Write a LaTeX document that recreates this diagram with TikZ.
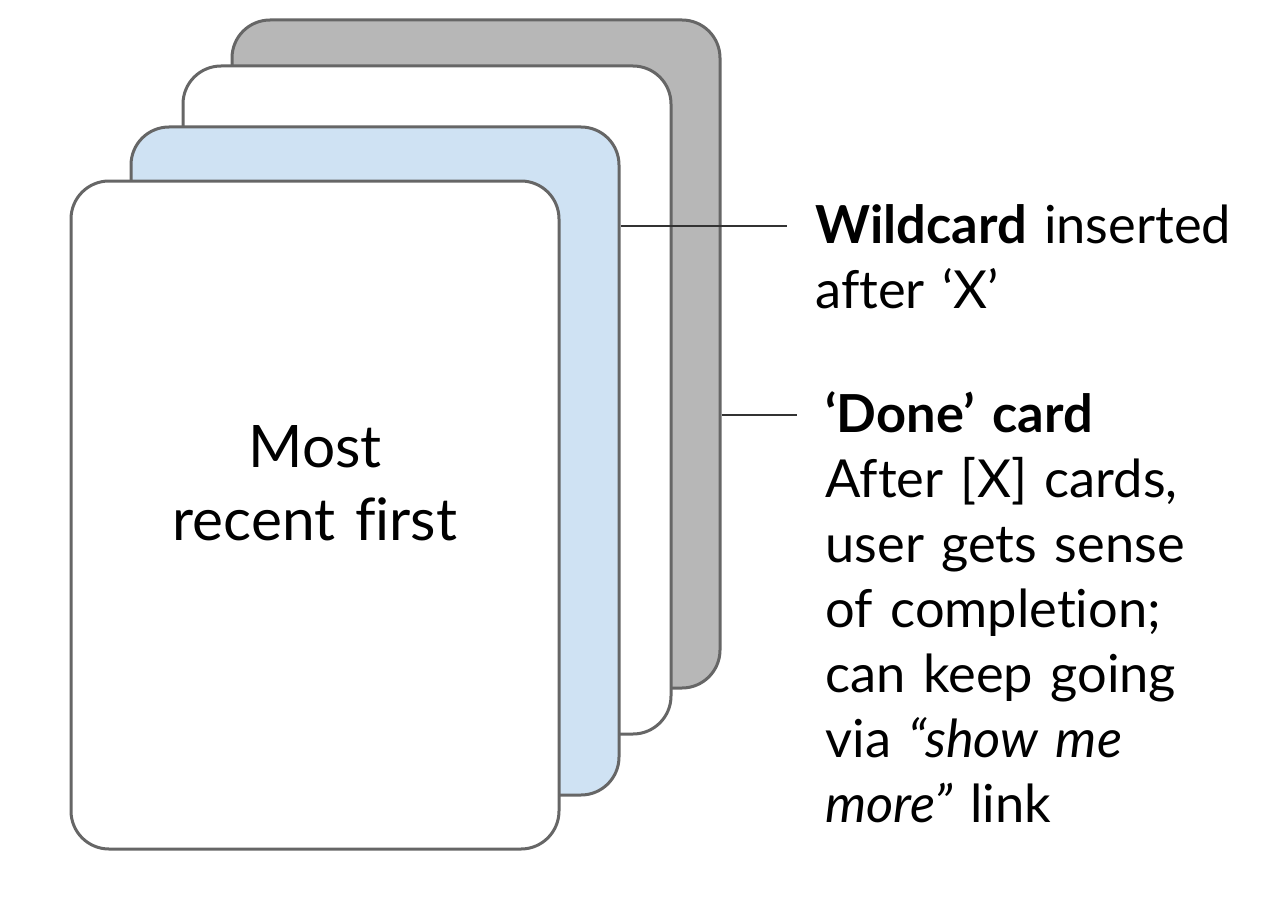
\documentclass[tikz,border=0pt]{standalone}
\usepackage{fontspec}
\setmainfont{Lato}[Ligatures={TeX,NoCommon}, WordSpace=0.8]
\definecolor{cardgray}{HTML}{B7B7B7}
\definecolor{cardblue}{HTML}{CFE2F3}
\definecolor{cardline}{HTML}{666666}
\definecolor{leader}{HTML}{333333}
\begin{document}
\begin{tikzpicture}[x=0.5pt,y=-0.5pt,
	card/.style={draw=cardline, line width=1.5pt, rounded corners=19pt, minimum width=244pt, minimum height=334pt, inner sep=0pt},
	note/.style={anchor=base west, inner sep=0pt, text width=230pt, align=left, font=\fontsize{26.2pt}{32.5pt}\selectfont},
	leaderline/.style={draw=leader, line width=1.3pt}]
\useasboundingbox (0,0) rectangle (1268,904);

% cards, back to front
\foreach \cx/\cy/\cfill/\cname in {476/354/cardgray/card4, 427/400/white/card3, 375/461/cardblue/card2, 315/515/white/card1}
	\node[card, fill=\cfill] (\cname) at (\cx,\cy) {};
\node[anchor=base, inner sep=0pt, text width=240pt, align=center, font=\fontsize{29.3pt}{36.5pt}\selectfont] (recent) at (315,467) {Most\\recent first};

% notes on the right
\node[note] (wild) at (815,243) {\textbf{Wildcard} inserted\\after ‘X’};
\node[note] (done) at (825,432) {\textbf{‘Done’ card}\\After [X] cards,\\user gets sense\\of completion;\\can keep going\\via \textit{“show me}\\\textit{more”} link};
\coordinate (wildend) at (787,226);
\coordinate (doneend) at (797,415);
\draw[leaderline] (card2.east |- wildend) -- (wildend);
\draw[leaderline] (card4.east |- doneend) -- (doneend);
\end{tikzpicture}
\end{document}
